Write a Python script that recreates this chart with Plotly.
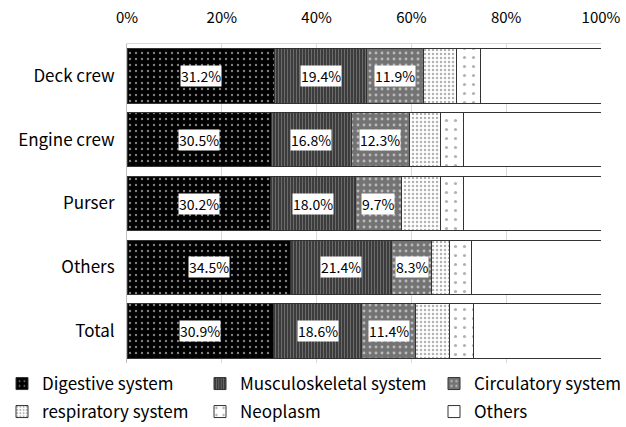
import plotly.graph_objects as go

categories = ["Deck crew", "Engine crew", "Purser", "Others", "Total"]
series_names = ["Digestive system", "Musculoskeletal system", "Circulatory system",
                "respiratory system", "Neoplasm", "Others"]
digestive = [31.2, 30.5, 30.2, 34.5, 30.9]
musculoskeletal = [19.4, 16.8, 18.0, 21.4, 18.6]
circulatory = [11.9, 12.3, 9.7, 8.3, 11.4]
respiratory = [7.1, 6.6, 8.3, 3.8, 7.1]
neoplasm = [4.9, 4.7, 4.8, 4.6, 5.1]
others = [25.5, 29.1, 29.0, 27.4, 26.9]
labelled = [True, True, True, False, False, False]

values = [digestive, musculoskeletal, circulatory, respiratory, neoplasm, others]

styles = [
    dict(bg="#000000", fg="#ffffff", shape=".", size=6, sol=0.12),
    dict(bg="#3c3c3c", fg="#9a9a9a", shape="|", size=3, sol=0.35),
    dict(bg="#737373", fg="#ffffff", shape=".", size=6, sol=0.18),
    dict(bg="#ffffff", fg="#666666", shape=".", size=4, sol=0.3),
    dict(bg="#ffffff", fg="#666666", shape=".", size=9, sol=0.1),
    dict(bg="#ffffff", fg="#ffffff", shape="", size=8, sol=0.2),
]

FONT = "Noto Sans CJK JP"
L, R, T, B = 127, 25, 44, 64
W, H = 626, 427
pw, ph = W - L - R, H - T - B

legend_px = [(2, 384), (200, 384), (434, 384), (2, 412), (200, 412), (434, 412)]

fig = go.Figure()
for i, (name, vals, st) in enumerate(zip(series_names, values, styles)):
    fig.add_trace(go.Bar(
        y=categories, x=vals, name=name, orientation="h",
        legend="legend" if i == 0 else f"legend{i+1}",
        marker=dict(color=st["bg"], line=dict(color="#333333", width=1),
                    pattern=dict(shape=st["shape"], fgcolor=st["fg"], bgcolor=st["bg"],
                                 size=st["size"], solidity=st["sol"], fillmode="overlay")),
        hoverinfo="skip",
    ))

annotations = []
for j, cat in enumerate(categories):
    cum = 0
    for i, vals in enumerate(values):
        v = vals[j]
        if labelled[i]:
            annotations.append(dict(x=cum + v / 2, y=cat, xref="x", yref="y",
                                    text=f"{v:.1f}%", showarrow=False,
                                    bgcolor="white", borderpad=0,
                                    font=dict(family=FONT, size=14, color="black")))
        cum += v

layout_legends = {}
for i, (px, py) in enumerate(legend_px):
    key = "legend" if i == 0 else f"legend{i+1}"
    layout_legends[key] = dict(
        x=(px - L) / pw, y=(H - B - py) / ph, xref="paper", yref="paper",
        xanchor="left", yanchor="middle", orientation="h",
        font=dict(family=FONT, size=17, color="black"),
        bgcolor="rgba(0,0,0,0)", itemwidth=30,
    )

fig.update_layout(
    width=W, height=H,
    margin=dict(l=L, r=R, t=T, b=B, autoexpand=False),
    barmode="stack", bargap=0.15,
    plot_bgcolor="white", paper_bgcolor="white",
    font=dict(family=FONT, size=14, color="black"),
    annotations=annotations,
    showlegend=True,
    xaxis=dict(side="top", range=[0, 100], tickvals=[0, 20, 40, 60, 80, 100],
               ticktext=["0%", "20%", "40%", "60%", "80%", "100%"],
               showgrid=True, gridcolor="#d9d9d9", gridwidth=1,
               showline=True, linecolor="#d9d9d9", zeroline=False,
               ticks="", ticklabelstandoff=14, tickfont=dict(size=15)),
    yaxis=dict(autorange="reversed", showline=True, linecolor="#bfbfbf",
               ticks="", ticklabelstandoff=8, tickfont=dict(size=17)),
    **layout_legends,
)

fig.write_html("out.html", config={"displayModeBar": False},
               post_script="document.body.style.margin='0';")
